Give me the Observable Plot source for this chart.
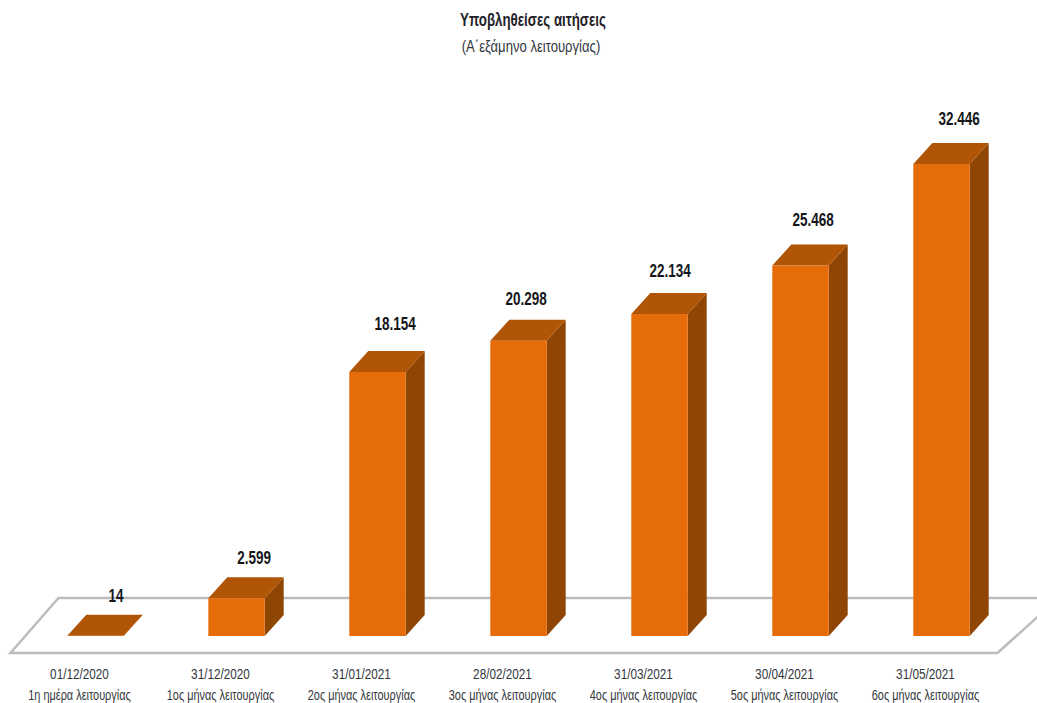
<!DOCTYPE html>
<html>
<head>
<meta charset="utf-8">
<script src="https://cdn.jsdelivr.net/npm/d3@7"></script>
<script src="https://cdn.jsdelivr.net/npm/@observablehq/plot@0.6"></script>
<style>
  html, body { margin: 0; padding: 0; background: #fff; overflow: hidden; }
  #head { height: 62px; text-align: center; font-family: "Liberation Sans", sans-serif; color: #1f2228; position: relative; width: 1037px; }
  #head div { position: absolute; left: 0; }
  #t1 { width: 1066px; top: 10px; font-size: 18px; font-weight: 700; line-height: 20px; transform: scaleX(.74); }
  #t2 { width: 1062px; top: 37px; font-size: 17px; line-height: 20px; color: #33373d; transform: scaleX(.77); }
  svg { display: block; }
</style>
</head>
<body>
<div id="head">
  <div id="t1">Υποβληθείσες αιτήσεις</div>
  <div id="t2">(Α΄εξάμηνο λειτουργίας)</div>
</div>
<div id="chart"></div>
<script>
const dates = ["01/12/2020", "31/12/2020", "31/01/2021", "28/02/2021", "31/03/2021", "30/04/2021", "31/05/2021"];
const phases = ["1η ημέρα λειτουργίας", "1ος μήνας λειτουργίας", "2ος μήνας λειτουργίας", "3ος μήνας λειτουργίας", "4ος μήνας λειτουργίας", "5ος μήνας λειτουργίας", "6ος μήνας λειτουργίας"];
const values = [14, 2599, 18154, 20298, 22134, 25468, 32446];
const valueLabels = ["14", "2.599", "18.154", "20.298", "22.134", "25.468", "32.446"];

// Layout and style, separate from the data
const labelDx = [20, 17, 17, 7, 10, 12, 17];
const labelDy = [-40, -40, -48, -42, -43, -46, -45];
const depthX = 19, depthY = 21;
const FONT = '"Liberation Sans", sans-serif';
const COLORS = {front: "#e66c0a", top: "#b05405", side: "#8f4503", floor: "#bcbcbc"};
const NARROW = {value: 0.75, date: 0.84, phase: 0.78};

const rows = values.map((value, i) => ({i, value, label: valueLabels[i]}));
const SVGNS = "http://www.w3.org/2000/svg";

function poly(doc, pts, fill) {
  const p = doc.createElementNS(SVGNS, "polygon");
  p.setAttribute("points", pts.map(d => d.join(",")).join(" "));
  p.setAttribute("fill", fill);
  return p;
}

// Adds the side and top faces to each bar, from the positions the scales gave it
function bar3d(index, scales, vals, dims, ctx, next) {
  const g = ctx.document.createElementNS(SVGNS, "g");
  for (const i of index) {
    const l = vals.x1[i], r = vals.x2[i], b = vals.y1[i], t = vals.y2[i];
    g.appendChild(poly(ctx.document, [[r, b], [r + depthX, b - depthY], [r + depthX, t - depthY], [r, t]], COLORS.side));
    g.appendChild(poly(ctx.document, [[l, t], [l + depthX, t - depthY], [r + depthX, t - depthY], [r, t]], COLORS.top));
  }
  g.appendChild(next(index, scales, vals, dims, ctx));
  return g;
}

// The floor, a parallelogram around the first and last bars
function floor(index, scales, vals, dims, ctx) {
  const x0 = scales.x(0), x6 = scales.x(6), y0 = scales.y(0);
  const p = poly(ctx.document, [[x0 - 85, y0 + 17], [x6 + 56, y0 + 17], [x6 + 117, y0 - 38], [x0 - 37, y0 - 38]], "none");
  p.setAttribute("stroke", COLORS.floor);
  p.setAttribute("stroke-width", 2.5);
  return p;
}

// No condensed face is installed, so the text is condensed horizontally
function condense(factor) {
  return (index, scales, vals, dims, ctx, next) => {
    const g = next(index, scales, vals, dims, ctx);
    g.querySelectorAll("text").forEach(t => {
      t.setAttribute("transform", (t.getAttribute("transform") || "") + ` scale(${factor},1)`);
    });
    return g;
  };
}

const tickText = (text, dy, factor) => Plot.text(rows, {
  x: "i",
  y: () => 0,
  text,
  dx: -16.5,
  dy,
  textAnchor: "middle",
  fontSize: 14,
  fill: "#33373d",
  fontFamily: FONT,
  render: condense(factor)
});

const chart = Plot.plot({
  width: 1037,
  height: 641,
  marginLeft: 0, marginRight: 0, marginTop: 0, marginBottom: 67,
  x: {type: "linear", domain: [0, 6], range: [95.5, 941.5], axis: null},
  y: {type: "linear", domain: [0, 32446], range: [574, 102], axis: null},
  style: {fontFamily: FONT, background: "transparent"},
  marks: [
    Plot.rect([0], {x1: () => 0, x2: () => 6, y1: () => 0, y2: () => 0, render: floor}),
    Plot.rect(rows, {
      x1: d => d.i - 0.2,
      x2: d => d.i + 0.2,
      y1: () => 0,
      y2: "value",
      fill: COLORS.front,
      render: bar3d
    }),
    ...rows.map((d, i) => Plot.text([d], {
      x: "i", y: "value", text: "label",
      dx: labelDx[i], dy: labelDy[i],
      fontSize: 18, fontWeight: 700, fill: "#14161a", fontFamily: FONT,
      render: condense(NARROW.value)
    })),
    tickText(d => dates[d.i], 38, NARROW.date),
    tickText(d => phases[d.i], 59, NARROW.phase)
  ]
});
document.getElementById("chart").appendChild(chart);
</script>
</body>
</html>
